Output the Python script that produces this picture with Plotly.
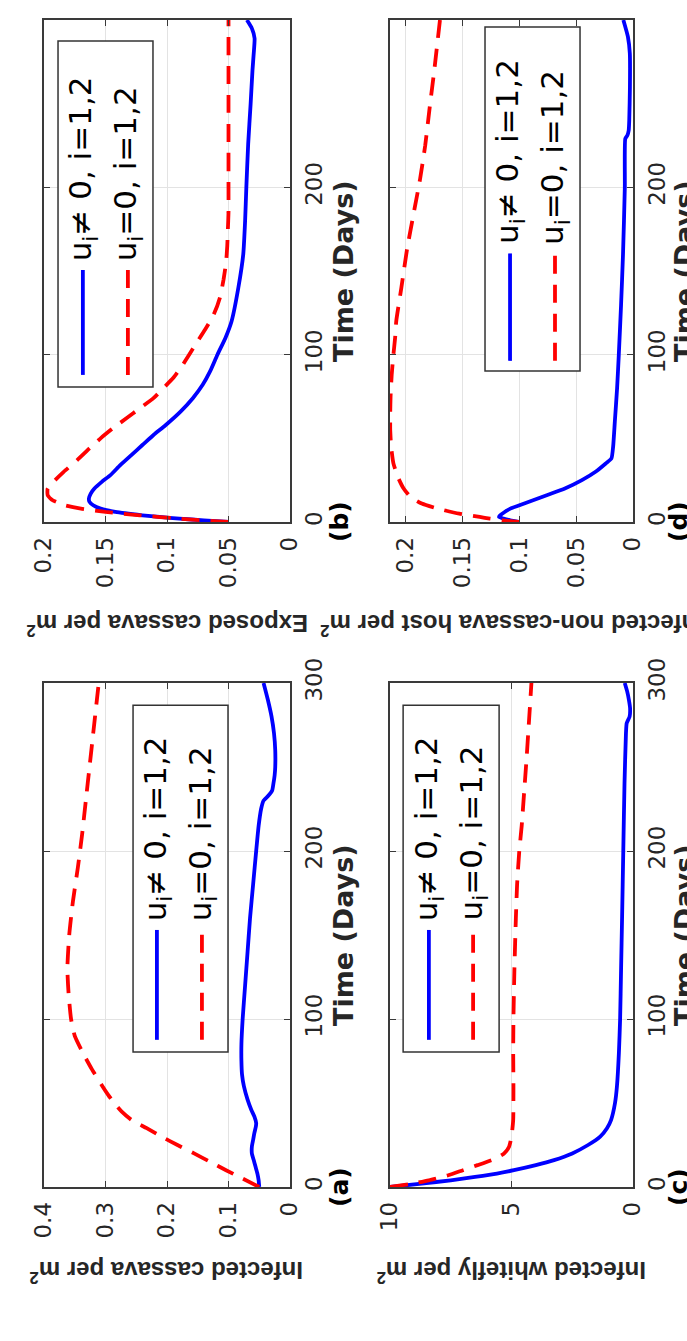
import plotly.graph_objects as go

W, H = 687, 1341

# ---------------- data (days, density per m^2) ----------------
# (a) infected cassava
t_a_ctrl = [0, 4, 8, 12, 16, 20, 24, 28, 32, 36, 38, 42, 46, 52, 60, 67, 75, 85, 100,
            120, 140, 160, 180, 200, 215, 225, 230, 233, 236, 240, 245, 250, 260,
            270, 280, 290, 300]
a_ctrl = [0.050, 0.051, 0.053, 0.056, 0.059, 0.062, 0.062, 0.060, 0.058, 0.0555, 0.055,
          0.058, 0.063, 0.069, 0.075, 0.078, 0.079, 0.079, 0.077, 0.073, 0.069, 0.065,
          0.060, 0.055, 0.051, 0.047, 0.043, 0.035, 0.029, 0.027, 0.025, 0.024, 0.024,
          0.026, 0.030, 0.036, 0.043]
t_a_none = [0, 5, 10, 15, 20, 25, 30, 35, 40, 45, 50, 55, 60, 70, 80, 90, 100, 115,
            130, 150, 170, 190, 210, 230, 250, 270, 290, 300]
a_none = [0.050, 0.077, 0.104, 0.130, 0.156, 0.183, 0.209, 0.233, 0.258, 0.274, 0.286,
          0.296, 0.305, 0.322, 0.337, 0.350, 0.356, 0.360, 0.362, 0.359, 0.353, 0.345,
          0.338, 0.332, 0.326, 0.320, 0.314, 0.311]

# (b) exposed cassava
t_b_ctrl = [0, 1, 2, 3, 4, 6, 8, 10, 12, 14, 17, 20, 24, 28, 34, 40, 46, 52, 58, 66,
            74, 82, 90, 100, 110, 120, 140, 160, 180, 200, 226, 250, 270, 280, 289,
            295, 300]
b_ctrl = [0.050, 0.070, 0.090, 0.106, 0.120, 0.142, 0.154, 0.160, 0.163, 0.1635, 0.162,
          0.159, 0.153, 0.146, 0.138, 0.129, 0.120, 0.111, 0.101, 0.089, 0.079, 0.071,
          0.065, 0.059, 0.0525, 0.0475, 0.042, 0.038, 0.0365, 0.0355, 0.034, 0.032,
          0.0305, 0.0295, 0.0288, 0.031, 0.035]
t_b_none = [0, 2, 4, 6, 8, 10, 13, 16, 20, 25, 30, 37, 44, 50, 56, 62, 68, 74, 80, 86,
            93, 100, 107, 115, 124, 134, 145, 155, 165, 175, 185, 200, 225, 250, 275, 300]
b_none = [0.050, 0.090, 0.122, 0.150, 0.170, 0.183, 0.193, 0.197, 0.197, 0.191, 0.184,
          0.173, 0.163, 0.154, 0.144, 0.133, 0.122, 0.111, 0.103, 0.095, 0.088, 0.082,
          0.076, 0.069, 0.062, 0.057, 0.054, 0.052, 0.051, 0.0505, 0.050, 0.050, 0.050,
          0.050, 0.050, 0.050]

# (c) infected whitefly
t_c_ctrl = [0, 2, 4, 6, 8, 10, 13, 16, 20, 25, 30, 35, 40, 50, 60, 80, 100, 130, 160,
            200, 240, 270, 276, 280, 285, 290, 295, 300]
c_ctrl = [10.0, 8.7, 7.5, 6.5, 5.6, 4.9, 4.0, 3.25, 2.5, 1.85, 1.35, 1.07, 0.90, 0.74,
          0.66, 0.58, 0.53, 0.49, 0.45, 0.40, 0.35, 0.29, 0.26, 0.14, 0.12, 0.17, 0.24,
          0.34]
t_c_none = [0, 2, 4, 7, 10, 13, 17, 20, 24, 30, 40, 60, 80, 100, 130, 160, 180, 200,
            215, 235, 255, 275, 300]
c_none = [10.0, 9.1, 8.4, 7.6, 7.0, 6.4, 5.65, 5.3, 5.1, 5.0, 4.93, 4.92, 4.93, 4.92,
          4.88, 4.82, 4.77, 4.68, 4.58, 4.48, 4.38, 4.29, 4.18]

# (d) infected non-cassava host
t_d_ctrl = [0, 1, 2, 3, 4, 6, 8, 10, 13, 16, 20, 25, 30, 35, 38, 45, 60, 80, 100, 130,
            160, 200, 229, 231, 234, 240, 260, 280, 290, 300]
d_ctrl = [0.100, 0.108, 0.114, 0.118, 0.117, 0.113, 0.108, 0.100, 0.088, 0.076, 0.060,
          0.045, 0.033, 0.024, 0.019, 0.0175, 0.016, 0.014, 0.0125, 0.0105, 0.0088,
          0.0072, 0.0068, 0.0050, 0.0038, 0.0033, 0.0027, 0.0028, 0.0045, 0.0085]
t_d_none = [0, 1, 2, 3, 5, 8, 11, 15, 20, 26, 35, 45, 55, 65, 75, 88, 100, 110, 120,
            140, 163, 185, 205, 225, 248, 270, 300]
d_none = [0.100, 0.115, 0.126, 0.135, 0.153, 0.172, 0.186, 0.196, 0.202, 0.2065, 0.211,
          0.213, 0.2138, 0.2138, 0.2135, 0.2125, 0.211, 0.2095, 0.2085, 0.204, 0.199,
          0.193, 0.1875, 0.183, 0.179, 0.175, 0.170]

# axis ticks
time_ticks = [0, 100, 200, 300]
ticks_a = [0, 0.1, 0.2, 0.3, 0.4]
labels_a = ["0", "0.1", "0.2", "0.3", "0.4"]
ticks_b = [0, 0.05, 0.1, 0.15, 0.2]
labels_b = ["0", "0.05", "0.1", "0.15", "0.2"]
ticks_c = [0, 5, 10]
labels_c = ["0", "5", "10"]
ticks_d = [0, 0.05, 0.1, 0.15, 0.2]
labels_d = ["0", "0.05", "0.1", "0.15", "0.2"]

legend_ctrl = "u<sub>i</sub>\u2260 0, i=1,2"
legend_none = "u<sub>i</sub>=0, i=1,2"

# ---------------- styling ----------------
BLUE = "#0000ff"
RED = "#ff0000"
AX = "#3a3a3a"
GRID = "#e3e3e3"
TXT = "#262626"
TICK_FONT = "DejaVu Sans"
TITLE_FONT = "Liberation Sans, Arial, sans-serif"
LINE_W = 3.8
DASH = "18px,11px"


def px(x):
    return x / W


def py(y):
    return 1 - y / H


COL_L = [px(44), px(290)]
COL_R = [px(390), px(633)]
ROW_T = [py(522), py(20)]
ROW_B = [py(1187), py(683)]

panels = [
    dict(tag="(b)", n="", xd=COL_L, yd=ROW_T, vmax=0.2, tv=ticks_b, tt=labels_b,
         t1=t_b_ctrl, v1=b_ctrl, t2=t_b_none, v2=b_none,
         title="Exposed cassava per m<sup>2</sup>",
         leg=dict(box=(0.057, 0.443, 0.269, 0.958), lx=(0.158, 0.341), ly=(0.293, 0.502))),
    dict(tag="(d)", n="2", xd=COL_R, yd=ROW_T, vmax=0.214, tv=ticks_d, tt=labels_d,
         t1=t_d_ctrl, v1=d_ctrl, t2=t_d_none, v2=d_none,
         title="Infected non-cassava host per m<sup>2</sup>",
         leg=dict(box=(0.391, 0.782, 0.301, 0.986), lx=(0.494, 0.679), ly=(0.321, 0.535))),
    dict(tag="(a)", n="3", xd=COL_L, yd=ROW_B, vmax=0.4, tv=ticks_a, tt=labels_a,
         t1=t_a_ctrl, v1=a_ctrl, t2=t_a_none, v2=a_none,
         title="Infected cassava per m<sup>2</sup>",
         leg=dict(box=(0.362, 0.748, 0.268, 0.956), lx=(0.459, 0.642), ly=(0.292, 0.51))),
    dict(tag="(c)", n="4", xd=COL_R, yd=ROW_B, vmax=10, tv=ticks_c, tt=labels_c,
         t1=t_c_ctrl, v1=c_ctrl, t2=t_c_none, v2=c_none,
         title="Infected whitefly per m<sup>2</sup>",
         leg=dict(box=(0.054, 0.449, 0.268, 0.956), lx=(0.160, 0.342), ly=(0.292, 0.51))),
]

fig = go.Figure()
shapes = []
annotations = []
layout_axes = {}

for p in panels:
    n = p["n"]
    xa, ya = "x" + n, "y" + n
    # controlled (solid blue) first, uncontrolled (dashed red) on top
    fig.add_trace(go.Scatter(x=p["v1"], y=p["t1"], xaxis=xa, yaxis=ya, mode="lines",
                             line=dict(color=BLUE, width=LINE_W, shape="spline",
                                       smoothing=0.5),
                             showlegend=False, hoverinfo="skip"))
    fig.add_trace(go.Scatter(x=p["v2"], y=p["t2"], xaxis=xa, yaxis=ya, mode="lines",
                             line=dict(color=RED, width=LINE_W, dash=DASH,
                                       shape="spline", smoothing=0.5),
                             showlegend=False, hoverinfo="skip"))

    common = dict(showline=True, linecolor=AX, linewidth=1.5, mirror="ticks",
                  ticks="inside", ticklen=6, tickwidth=1.3, tickcolor=AX,
                  showgrid=True, gridcolor=GRID, gridwidth=1, zeroline=False,
                  tickangle=-90, fixedrange=True, automargin=False,
                  tickfont=dict(family=TICK_FONT, size=23, color=TXT))
    layout_axes["xaxis" + n] = dict(common, domain=p["xd"], anchor=ya,
                                    range=[p["vmax"], 0], tickvals=p["tv"],
                                    ticktext=p["tt"], side="bottom",
                                    ticklabelstandoff=4)
    layout_axes["yaxis" + n] = dict(common, domain=p["yd"], anchor=xa,
                                    range=[0, 300], tickvals=time_ticks,
                                    side="right", ticklabelstandoff=3)

    # legend box with line samples
    x0, x1, y0, y1 = p["leg"]["box"]
    xr, yr = xa + " domain", ya + " domain"
    shapes.append(dict(type="rect", xref=xr, yref=yr, x0=x0, x1=x1, y0=y0, y1=y1,
                       fillcolor="white", line=dict(color="#333333", width=1.5),
                       layer="above"))
    lx1, lx2 = p["leg"]["lx"]
    ly0, ly1 = p["leg"]["ly"]
    shapes.append(dict(type="line", xref=xr, yref=yr, x0=lx1, x1=lx1, y0=ly0, y1=ly1,
                       line=dict(color=BLUE, width=LINE_W), layer="above"))
    shapes.append(dict(type="line", xref=xr, yref=yr, x0=lx2, x1=lx2, y0=ly0, y1=ly1,
                       line=dict(color=RED, width=LINE_W, dash=DASH), layer="above"))
    for lx, txt in ((lx1, legend_ctrl), (lx2, legend_none)):
        annotations.append(dict(xref=xr, yref=yr, x=lx, y=ly1 + 0.014, text=txt,
                                textangle=-90, showarrow=False, xanchor="center",
                                yanchor="bottom",
                                font=dict(family=TICK_FONT, size=31, color="black")))

    # value-axis title (reads upside down in this orientation)
    xc = (p["xd"][0] + p["xd"][1]) / 2
    ty = py(625) if p["yd"] is ROW_T else py(1272)
    annotations.append(dict(xref="paper", yref="paper", x=xc, y=ty, text=p["title"],
                            textangle=180, showarrow=False, xanchor="center",
                            yanchor="middle",
                            font=dict(family=TITLE_FONT, size=24, color=TXT,
                                      weight="bold")))
    # time-axis title and panel tag
    col_x = 343 if p["xd"] is COL_L else 684
    tag_x = 339 if p["xd"] is COL_L else 678
    mid_y = (p["yd"][0] + p["yd"][1]) / 2
    annotations.append(dict(xref="paper", yref="paper", x=px(col_x), y=mid_y,
                            text="Time (Days)", textangle=-90, showarrow=False,
                            xanchor="center", yanchor="middle",
                            font=dict(family=TICK_FONT, size=27, color=TXT,
                                      weight="bold")))
    annotations.append(dict(xref="paper", yref="paper", x=px(tag_x), y=p["yd"][0],
                            text=p["tag"], textangle=-90, showarrow=False,
                            xanchor="center", yanchor="middle",
                            font=dict(family=TICK_FONT, size=25, color="black",
                                      weight="bold")))

fig.update_layout(
    template="none",
    width=W, height=H,
    margin=dict(l=0, r=0, t=0, b=0, pad=0),
    paper_bgcolor="white", plot_bgcolor="white",
    font=dict(family=TICK_FONT, color=TXT),
    showlegend=False,
    shapes=shapes, annotations=annotations,
    **layout_axes,
)

fig.write_html("out.html", config={"displayModeBar": False})
